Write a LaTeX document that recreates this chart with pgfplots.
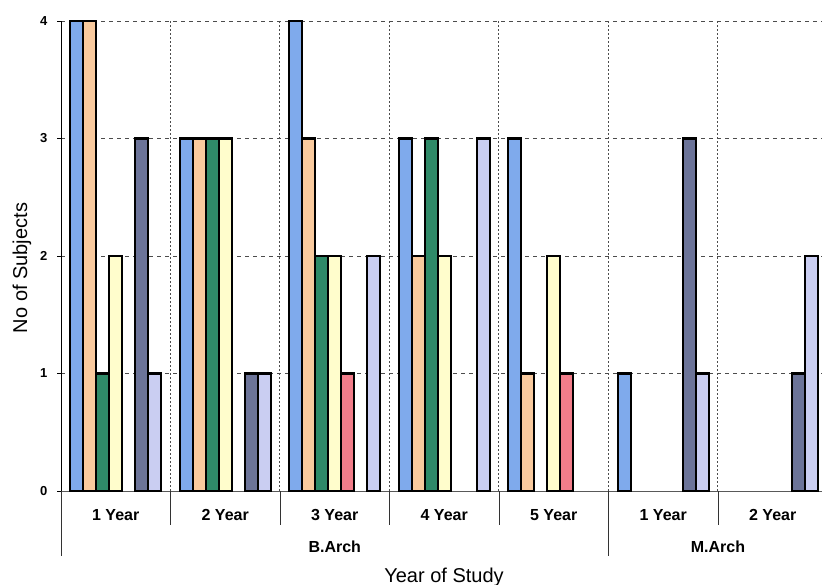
\documentclass[border=0pt]{standalone}
\usepackage{pgfplots}
\pgfplotsset{compat=1.18}
\usepackage{fontspec}
\setmainfont{Liberation Sans}
\definecolor{cA}{HTML}{7FAAEC}
\definecolor{cB}{HTML}{F9CA9E}
\definecolor{cC}{HTML}{2F8A68}
\definecolor{cD}{HTML}{FFFDCC}
\definecolor{cE}{HTML}{F27D8A}
\definecolor{cF}{HTML}{6C7499}
\definecolor{cG}{HTML}{CACEF2}
\tikzset{
  sep/.style={black!80, line width=0.9pt},
  lab/.style={font=\bfseries\fontsize{16}{17}\selectfont, anchor=center},
}
\begin{document}
\begin{tikzpicture}
\useasboundingbox (0,0) rectangle (822pt,585pt);
\begin{axis}[
  at={(61pt,94pt)}, anchor=south west,
  scale only axis, width=761pt, height=470pt,
  xmin=-0.5, xmax=6.45, ymin=0, ymax=4,
  ybar=0pt, bar width=13pt,
  axis x line=bottom, axis y line=left,
  x axis line style={-, gray!70!black, line width=0.8pt},
  y axis line style={-, black, line width=1pt},
  ytick={0,1,2,3,4},
  yticklabel style={font=\bfseries\fontsize{13}{14}\selectfont, xshift=-6pt},
  /pgf/number format/assume math mode=true,
  ytick align=outside, major tick length=4pt,
  ytick style={black, line width=0.6pt},
  xtick={0,...,6}, xticklabels={}, xtick style={draw=none},
  minor xtick={0.5,1.5,...,5.5},
  minor tick length=0pt,
  ymajorgrids, xminorgrids,
  major grid style={gray!60!black, line width=0.8pt, dash pattern=on 4pt off 4pt},
  minor grid style={gray!60!black, line width=1pt, dash pattern=on 1.5pt off 2.5pt},
  clip=false,
  every axis plot/.append style={line width=2.2pt},
]
% series 1 (blue)
\addplot[draw=black, line width=2.2pt, fill=cA] coordinates {(0,4) (1,3) (2,4) (3,3) (4,3) (5,1)};
% series 2 (orange)
\addplot[draw=black, line width=2.2pt, fill=cB] coordinates {(0,4) (1,3) (2,3) (3,2) (4,1)};
% series 3 (green)
\addplot[draw=black, line width=2.2pt, fill=cC] coordinates {(0,1) (1,3) (2,2) (3,3)};
% series 4 (yellow)
\addplot[draw=black, line width=2.2pt, fill=cD] coordinates {(0,2) (1,3) (2,2) (3,2) (4,2)};
% series 5 (red)
\addplot[draw=black, line width=2.2pt, fill=cE] coordinates {(2,1) (4,1)};
% series 6 (dark slate)
\addplot[draw=black, line width=2.2pt, fill=cF] coordinates {(0,3) (1,1) (5,3) (6,1)};
% series 7 (lavender)
\addplot[draw=black, line width=2.2pt, fill=cG] coordinates {(0,1) (1,1) (2,2) (3,3) (5,1) (6,2)};

% category separators
\draw[sep] (axis cs:0.5,0) -- ([yshift=-34pt]axis cs:0.5,0);
\draw[sep] (axis cs:1.5,0) -- ([yshift=-34pt]axis cs:1.5,0);
\draw[sep] (axis cs:2.5,0) -- ([yshift=-34pt]axis cs:2.5,0);
\draw[sep] (axis cs:3.5,0) -- ([yshift=-34pt]axis cs:3.5,0);
\draw[sep] (axis cs:5.5,0) -- ([yshift=-34pt]axis cs:5.5,0);
\draw[sep] (axis cs:-0.5,0) -- ([yshift=-65pt]axis cs:-0.5,0);
\draw[sep] (axis cs:4.5,0) -- ([yshift=-65pt]axis cs:4.5,0);
% first level labels
\node[lab] at ([yshift=-24pt]axis cs:0,0) {1 Year};
\node[lab] at ([yshift=-24pt]axis cs:1,0) {2 Year};
\node[lab] at ([yshift=-24pt]axis cs:2,0) {3 Year};
\node[lab] at ([yshift=-24pt]axis cs:3,0) {4 Year};
\node[lab] at ([yshift=-24pt]axis cs:4,0) {5 Year};
\node[lab] at ([yshift=-24pt]axis cs:5,0) {1 Year};
\node[lab] at ([yshift=-24pt]axis cs:6,0) {2 Year};
% second level labels
\node[lab] at ([yshift=-56pt]axis cs:2,0) {B.Arch};
\node[lab] at ([yshift=-56pt]axis cs:5.5,0) {M.Arch};
\end{axis}
\node[font=\fontsize{20}{22}\selectfont, rotate=90] at (22pt,317pt) {No of Subjects};
\node[font=\fontsize{20}{22}\selectfont] at (444pt,8pt) {Year of Study};
\end{tikzpicture}
\end{document}
